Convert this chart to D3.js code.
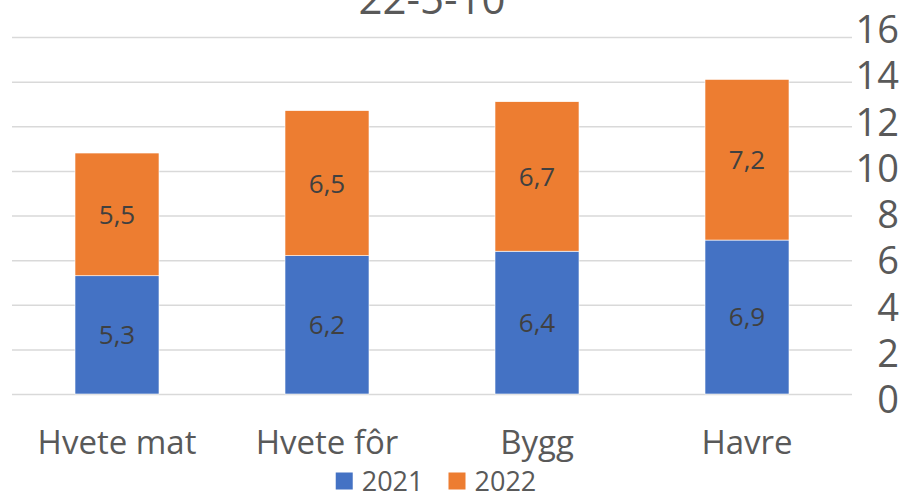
<!DOCTYPE html>
<html>
<head>
<meta charset="utf-8">
<script src="https://cdn.jsdelivr.net/npm/d3@7"></script>
<style>
  html, body { margin: 0; padding: 0; background: #fff; }
  svg { display: block; font-family: "Open Sans", sans-serif; }
</style>
</head>
<body>
<svg id="chart" width="904" height="492"></svg>
<script>
const title = "22-5-10";
const categories = ["Hvete mat", "Hvete fôr", "Bygg", "Havre"];
const seriesNames = ["2021", "2022"];
const values2021 = [5.3, 6.2, 6.4, 6.9];
const values2022 = [5.5, 6.5, 6.7, 7.2];
const yTicks = [0, 2, 4, 6, 8, 10, 12, 14, 16];
const colors = ["#4472C4", "#ED7D31"];

const svg = d3.select("#chart");
const plot = { left: 12, right: 852, top: 37, bottom: 394 };

const x = d3.scaleBand().domain(categories)
  .range([plot.left, plot.right]).paddingInner(0.6).paddingOuter(0.3);
const y = d3.scaleLinear().domain([0, 16]).range([plot.bottom, plot.top]);
// the tick labels in the reference sit on a slightly taller scale than the gridlines
const yLabels = d3.scaleLinear().domain([0, 16]).range([399, 29]);

const rows = categories.map((c, i) => ({ cat: c, "2021": values2021[i], "2022": values2022[i] }));
const stacked = d3.stack().keys(seriesNames)(rows);

// gridlines
const yAxis = d3.axisRight(y).tickValues(yTicks).tickSize(plot.right - plot.left).tickFormat("");
const grid = svg.append("g").attr("transform", `translate(${plot.left},0)`).call(yAxis);
grid.select(".domain").remove();
grid.selectAll(".tick line").attr("stroke", "#d9d9d9").attr("stroke-width", 1.5);

// tick labels on right
const yLab = d3.axisRight(yLabels).tickValues(yTicks).tickSize(0).tickFormat(d3.format("d"));
const gl = svg.append("g").attr("transform", `translate(899,0)`).call(yLab);
gl.select(".domain").remove();
gl.selectAll(".tick text")
  .attr("x", 0).attr("dy", "0.36em")
  .attr("text-anchor", "end")
  .attr("fill", "#595959")
  .style("font-size", "38px")
  .style("font-family", "'Open Sans', sans-serif");

// bars
const layers = svg.append("g").selectAll("g").data(stacked).join("g")
  .attr("fill", (d, i) => colors[i]);
layers.selectAll("rect").data(d => d).join("rect")
  .attr("x", d => x(d.data.cat))
  .attr("width", x.bandwidth())
  .attr("y", d => y(d[1]))
  .attr("height", d => y(d[0]) - y(d[1]))
  .attr("stroke", "#ffffff").attr("stroke-width", 0.6);

// data labels
const fmt = v => String(v).replace(".", ",");
stacked.forEach((layer, li) => {
  svg.append("g").selectAll("text").data(layer).join("text")
    .attr("x", d => x(d.data.cat) + x.bandwidth() / 2)
    .attr("y", d => (y(d[0]) + y(d[1])) / 2)
    .attr("dy", "0.36em")
    .attr("text-anchor", "middle")
    .attr("fill", "#404040")
    .style("font-size", "26px")
    .text(d => fmt(d.data[seriesNames[li]]));
});

// category labels
const xAxis = d3.axisBottom(x).tickSize(0);
const gx = svg.append("g").attr("transform", `translate(0,${plot.bottom})`).call(xAxis);
gx.select(".domain").remove();
gx.selectAll(".tick text")
  .attr("y", 0).attr("dy", "60px")
  .attr("fill", "#595959")
  .style("font-size", "33px")
  .style("font-family", "'Open Sans', sans-serif");

// title (cut off at top, as in the reference)
svg.append("text")
  .attr("x", (plot.left + plot.right) / 2)
  .attr("y", 14)
  .attr("text-anchor", "middle")
  .attr("fill", "#595959")
  .style("font-size", "42px")
  .text(title);

// legend
const legend = svg.append("g");
const sq = 17, gap = 9, itemGap = 25;
let cx = 0;
seriesNames.forEach((n, i) => {
  const g = legend.append("g");
  g.append("rect").attr("x", 0).attr("y", -sq / 2).attr("width", sq).attr("height", sq).attr("fill", colors[i]);
  const t = g.append("text").attr("x", sq + gap).attr("dy", "0.36em")
    .attr("fill", "#595959").style("font-size", "27px").text(n);
  const w = sq + gap + t.node().getComputedTextLength();
  g.attr("transform", `translate(${cx},0)`);
  cx += w + itemGap;
});
const totalW = cx - itemGap;
legend.attr("transform", `translate(${436 - totalW / 2},481)`);
</script>
</body>
</html>
